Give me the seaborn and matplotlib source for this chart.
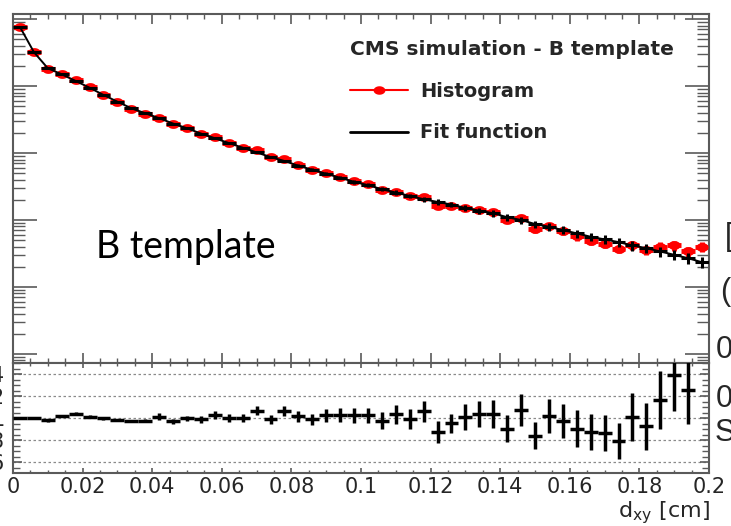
import numpy as np
import matplotlib
matplotlib.use("Agg")
import matplotlib.pyplot as plt
import seaborn as sns
from matplotlib.path import Path
from matplotlib.lines import Line2D
from matplotlib.ticker import MultipleLocator, LogLocator, NullFormatter, FixedLocator, FixedFormatter

# ---------------- data ----------------
x_lo, x_hi, n_bins = 0.0, 0.2, 50

fit_vals = [76000, 32100, 18400, 14960, 11890, 9440, 7350, 5830, 4650, 3920,
            3310, 2750, 2340, 1950, 1660, 1410, 1200, 1020, 871, 759,
            646, 562, 490, 427, 372, 331, 288, 257, 229, 204,
            186, 170, 151, 138, 126, 110, 100, 87.1, 79.4, 70.8,
            63.1, 56.2, 51.3, 46.8, 41.7, 38.0, 33.9, 30.2, 26.9, 23.4]

hist_vals = [76000, 32100, 18030, 15260, 12370, 9580, 7350, 5740, 4540, 3840,
             3360, 2670, 2340, 1930, 1705, 1410, 1200, 1091, 862, 808,
             659, 556, 503, 439, 382, 340, 282, 266, 227, 217,
             163, 162, 153, 143, 130.5, 99.8, 107.4, 73.2, 81.0, 69.1,
             57.2, 49.3, 44.3, 37.3, 42.3, 35.2, 39.5, 42.1, 33.9, 40.0]

main_rel_err = [0.01, 0.01, 0.01, 0.01, 0.01, 0.01, 0.01, 0.01, 0.01, 0.01,
                0.02, 0.02, 0.025, 0.025, 0.03, 0.03, 0.03, 0.035, 0.035, 0.04,
                0.045, 0.05, 0.05, 0.055, 0.06, 0.065, 0.07, 0.075, 0.08, 0.085,
                0.09, 0.09, 0.10, 0.10, 0.11, 0.11, 0.12, 0.12, 0.13, 0.13,
                0.14, 0.14, 0.15, 0.15, 0.16, 0.16, 0.17, 0.17, 0.18, 0.18]

ratio_err = [0.005, 0.005, 0.012, 0.012, 0.012, 0.012, 0.012, 0.012, 0.012, 0.012,
             0.03, 0.025, 0.025, 0.03, 0.035, 0.035, 0.035, 0.04, 0.04, 0.045,
             0.05, 0.05, 0.06, 0.065, 0.07, 0.07, 0.078, 0.087, 0.09, 0.097,
             0.097, 0.09, 0.115, 0.116, 0.127, 0.119, 0.145, 0.122, 0.157, 0.157,
             0.164, 0.164, 0.164, 0.161, 0.216, 0.209, 0.261, 0.33, 0.31, 0.35]

xtick_vals = [0, 0.02, 0.04, 0.06, 0.08, 0.1, 0.12, 0.14, 0.16, 0.18, 0.2]
xtick_labels = ["0", "0.02", "0.04", "0.06", "0.08", "0.1", "0.12", "0.14", "0.16", "0.18", "0.2"]
rtick_vals = [0.6, 0.8, 1.0, 1.2, 1.4]
rtick_labels = ["0.6", "0.8", "1", "1.2", "1.4"]

legend_title = "CMS simulation - B template"
label_hist = "Histogram"
label_fit = "Fit function"
panel_text = "B template"
side_texts = ["[", "(", "0", "0", "S"]

# ---------------- derived ----------------
edges = np.linspace(x_lo, x_hi, n_bins + 1)
centers = 0.5 * (edges[:-1] + edges[1:])
half_w = 0.5 * (edges[1] - edges[0])
fit = np.array(fit_vals, float)
hist = np.array(hist_vals, float)
rel = np.array(main_rel_err, float)
ratio = hist / fit
rerr = np.array(ratio_err, float)

# ---------------- style ----------------
sns.set_style("white")
plt.rcParams["font.family"] = ["DejaVu Sans"]
plt.rcParams["mathtext.default"] = "regular"

W, H = 731, 526
fig = plt.figure(figsize=(W / 100, H / 100), dpi=100)
ax = fig.add_axes([13 / W, 1 - 363 / H, 696 / W, 349 / H])
axr = fig.add_axes([13 / W, 1 - 473 / H, 696 / W, 110 / H])

frame_col = "#5a5a5a"
for a in (ax, axr):
    for s in a.spines.values():
        s.set_color(frame_col)
        s.set_linewidth(1.5)
        s.set_visible(True)

# ellipse marker (picture is horizontally stretched)
th = np.linspace(0, 2 * np.pi, 41)
ell = Path(np.column_stack([np.cos(th), 0.72 * np.sin(th)]), closed=True)

# ---------------- main panel ----------------
ax.errorbar(centers, hist, xerr=half_w, yerr=hist * rel, fmt="none",
            ecolor="red", elinewidth=3.5, capsize=0, zorder=2)
sns.scatterplot(x=centers, y=hist, ax=ax, marker=ell, s=78, color="red",
                edgecolor="red", linewidth=0, zorder=3, legend=False)
ax.errorbar(centers, fit, xerr=half_w, yerr=fit * rel, fmt="none",
            ecolor="black", elinewidth=2.2, capsize=0, zorder=4)
sns.lineplot(x=centers, y=fit, ax=ax, color="black", linewidth=1.4,
             estimator=None, zorder=5, legend=False)

ax.set_yscale("log")
ax.set_xlim(x_lo, x_hi)
ax.set_ylim(0.734, 1.188e5)
ax.yaxis.set_major_locator(LogLocator(base=10, numticks=20))
ax.yaxis.set_minor_locator(LogLocator(base=10, subs=np.arange(2, 10), numticks=200))
ax.yaxis.set_minor_formatter(NullFormatter())
ax.xaxis.set_major_locator(FixedLocator(xtick_vals))
ax.xaxis.set_minor_locator(MultipleLocator(0.005))
ax.tick_params(axis="y", which="major", direction="in", length=17, width=1.2,
               color=frame_col, left=True, right=True, labelleft=False)
ax.tick_params(axis="y", which="minor", direction="in", length=8.5, width=1.0,
               color=frame_col, left=True, right=True)
ax.tick_params(axis="x", which="major", direction="in", length=7, width=1.2,
               color=frame_col, top=True, bottom=True, labelbottom=False)
ax.tick_params(axis="x", which="minor", direction="in", length=3.6, width=1.0,
               color=frame_col, top=True, bottom=True)
ax.set_xlabel("")
ax.set_ylabel("")

handles = [Line2D([], [], color="red", lw=1.5, marker=ell, ms=8.5,
                  markeredgewidth=0, label=label_hist),
           Line2D([], [], color="black", lw=2, label=label_fit)]
leg = ax.legend(handles=handles, title=legend_title, frameon=False,
                loc="upper left", bbox_to_anchor=(350 / W, 1 - 40 / H),
                bbox_transform=fig.transFigure, alignment="left",
                prop={"family": "DejaVu Sans", "weight": "bold", "size": 14},
                title_fontproperties={"family": "DejaVu Sans", "weight": "bold", "size": 14.5},
                handlelength=3.0, handletextpad=0.62, labelspacing=1.17,
                borderpad=0, borderaxespad=0, numpoints=1)

fig.text(96 / W, 1 - 247 / H, panel_text, family="Lato", fontsize=27,
         ha="left", va="center", color="black")

# ---------------- ratio panel ----------------
vis = (ratio > 0.505) & (ratio < 1.5)
axr.errorbar(centers[vis], ratio[vis], xerr=half_w, yerr=rerr[vis], fmt="none",
             ecolor="black", elinewidth=2.5, capsize=0, zorder=3)
axr.set_xlim(x_lo, x_hi)
axr.set_ylim(0.505, 1.5)
axr.yaxis.set_major_locator(FixedLocator(rtick_vals))
axr.yaxis.set_major_formatter(FixedFormatter(rtick_labels))
axr.yaxis.set_minor_locator(MultipleLocator(0.05))
axr.xaxis.set_major_locator(FixedLocator(xtick_vals))
axr.xaxis.set_major_formatter(FixedFormatter(xtick_labels))
axr.xaxis.set_minor_locator(MultipleLocator(0.005))
axr.yaxis.grid(True, which="major", linestyle=(0, (2, 2)), color="#8a8a8a", linewidth=0.9)
axr.set_axisbelow(True)
axr.tick_params(axis="y", which="major", direction="in", length=6.5, width=1.2,
                color=frame_col, left=True, right=True, labelsize=15, pad=5.8)
axr.tick_params(axis="y", which="minor", direction="in", length=5, width=1.0,
                color=frame_col, left=True, right=True)
axr.tick_params(axis="x", which="major", direction="in", length=3.6, width=1.2,
                color=frame_col, top=True, bottom=True, labelsize=15, pad=3)
axr.tick_params(axis="x", which="minor", direction="in", length=2.2, width=1.0,
                color=frame_col, top=True, bottom=True)
axr.set_xlabel("")
axr.set_ylabel("")

fig.text(710 / W, 1 - 517 / H, r"d$_{xy}$ [cm]", fontsize=16, ha="right", va="baseline")

# cut-off slide text on the right edge
side_pos = [(725, 237), (720, 292), (716, 350), (716, 399), (715, 433)]
for t, (px, py) in zip(side_texts, side_pos):
    fig.text(px / W, 1 - py / H, t, family="Liberation Sans", fontsize=22,
             ha="left", va="center")

fig.savefig("out.png", dpi=100)
